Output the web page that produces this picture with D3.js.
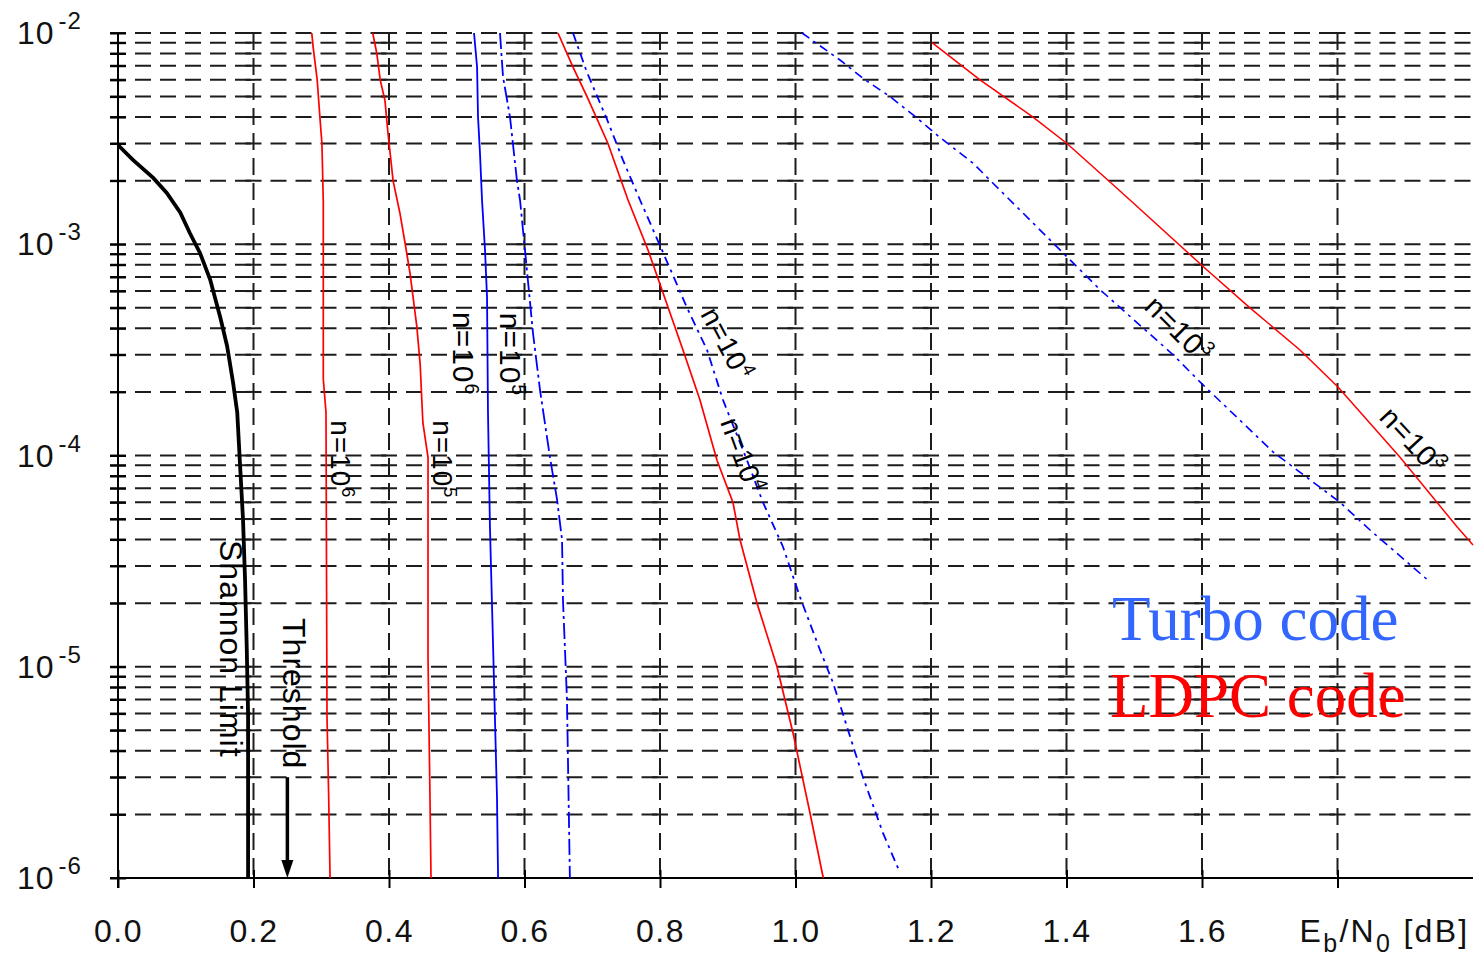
<!DOCTYPE html>
<html><head><meta charset="utf-8">
<script src="https://cdn.jsdelivr.net/npm/d3@7"></script>
<style>html,body{margin:0;padding:0;background:#fff;} svg{display:block;}</style>
</head><body>
<svg id="chart" width="1482" height="961"></svg>
<script>
// ---------- data ----------
const xTickValues = [0, 0.2, 0.4, 0.6, 0.8, 1.0, 1.2, 1.4, 1.6, 1.8];
const xTickLabels = ["0.0", "0.2", "0.4", "0.6", "0.8", "1.0", "1.2", "1.4", "1.6", ""];
const yDecades = [1e-6, 1e-5, 1e-4, 1e-3, 1e-2];
const yDecadeExponents = ["-6", "-5", "-4", "-3", "-2"];

const shannonLimit = [[0.000,2.95e-3],[0.022,2.51e-3],[0.052,2.06e-3],[0.072,1.75e-3],[0.092,1.41e-3],[0.106,1.13e-3],[0.121,9.1e-4],[0.136,6.8e-4],[0.151,4.5e-4],[0.161,3.3e-4],[0.170,2.2e-4],[0.176,1.6e-4],[0.180,9.2e-5],[0.1845,5.0e-5],[0.1875,2.6e-5],[0.190,1.24e-5],[0.192,6.0e-6],[0.192,1e-6]];
const ldpcN1e6 = [[0.286,1e-2],[0.288,8.6e-3],[0.294,6.0e-3],[0.298,4.0e-3],[0.301,3.0e-3],[0.303,1.6e-3],[0.303,2.3e-4],[0.307,1.6e-4],[0.3085,5.8e-6],[0.311,2.4e-6],[0.313,1e-6]];
const ldpcN1e5 = [[0.376,1e-2],[0.382,8.0e-3],[0.387,6.0e-3],[0.394,4.8e-3],[0.3985,3.36e-3],[0.406,2.0e-3],[0.416,1.41e-3],[0.424,1.0e-3],[0.431,7.3e-4],[0.441,4.1e-4],[0.446,2.7e-4],[0.450,1.43e-4],[0.4576,9.8e-5],[0.4576,1.1e-5],[0.4605,2.4e-6],[0.462,1e-6]];
const ldpcN1e4 = [[0.6494,1e-2],[0.6716,6.9e-3],[0.6923,5.0e-3],[0.7232,3.0e-3],[0.7528,1.62e-3],[0.7823,9.4e-4],[0.8044,5.9e-4],[0.8339,3.16e-4],[0.859,1.83e-4],[0.8841,9.5e-5],[0.9077,6.0e-5],[0.918,4.0e-5],[0.9432,2.0e-5],[0.9727,1.0e-5],[0.9963,4.86e-6],[1.0214,2.03e-6],[1.041,1e-6]];
const ldpcN1e3 = [[1.2015,9.0e-3],[1.2723,6.0e-3],[1.3506,4.0e-3],[1.4007,3.0e-3],[1.4642,1.97e-3],[1.4937,1.62e-3],[1.6074,7.55e-4],[1.6708,5.0e-4],[1.7446,3.16e-4],[1.8007,2.11e-4],[1.8923,9.8e-5],[1.9764,4.6e-5],[2.0,3.77e-5]];
const turboN1e6 = [[0.5255,1e-2],[0.530,6.9e-3],[0.5314,4.0e-3],[0.5343,2.7e-3],[0.5373,1.62e-3],[0.5417,9.4e-4],[0.5447,5.6e-4],[0.5461,1.6e-4],[0.549,4.6e-5],[0.5535,1.3e-5],[0.5594,2.4e-6],[0.561,1e-6]];
const turboN1e5 = [[0.5638,1e-2],[0.5683,6.2e-3],[0.5786,4.0e-3],[0.5889,2.0e-3],[0.5934,1.62e-3],[0.6007,9.4e-4],[0.6125,3.8e-4],[0.6229,2.04e-4],[0.6376,9.8e-5],[0.648,6.2e-5],[0.6554,4.0e-5],[0.6568,2.07e-5],[0.6627,7.0e-6],[0.667,1e-6]];
const turboN1e4 = [[0.6716,1e-2],[0.6923,6.5e-3],[0.7218,3.9e-3],[0.7454,2.5e-3],[0.7705,1.62e-3],[0.8074,8.7e-4],[0.8399,5.0e-4],[0.8694,3.16e-4],[0.893,1.83e-4],[0.9284,9.5e-5],[0.952,6.0e-5],[0.9815,3.7e-5],[1.0066,2.14e-5],[1.0362,1.2e-5],[1.0554,8.4e-6],[1.076,5.2e-6],[1.0996,3.0e-6],[1.1292,1.63e-6],[1.1542,1.06e-6]];
const turboN1e3 = [[1.0096,1e-2],[1.0657,7.45e-3],[1.0996,6.1e-3],[1.1395,5.0e-3],[1.1793,3.96e-3],[1.2133,3.2e-3],[1.262,2.42e-3],[1.3122,1.67e-3],[1.4494,6.1e-4],[1.5572,3.0e-4],[1.597,2.23e-4],[1.7048,1.04e-4],[1.8037,6.0e-5],[1.848,4.44e-5],[1.9365,2.52e-5]];
const thresholdDb = 0.25;
const thresholdArrowFrom = 3e-6;
const legendTexts = ["Turbo code", "LDPC code"];

// ---------- setup ----------
const svg = d3.select("#chart");
const x = d3.scaleLinear().domain([0, 2]).range([118, 1473]);
const y = d3.scaleLog().domain([1e-6, 1e-2]).range([878, 33]);
const FONT = "'Liberation Sans', Arial, Helvetica, sans-serif";
const SERIF = "'Liberation Serif', 'Times New Roman', Times, serif";
const gridColor = "#1c1c1c";

// ---------- grid ----------
const gGrid = svg.append("g");
gGrid.selectAll("line.v").data(xTickValues.filter(v => v > 0)).join("line")
  .attr("class", "v")
  .attr("x1", d => x(d)).attr("x2", d => x(d))
  .attr("y1", y(1e-2)).attr("y2", y(1e-6))
  .attr("stroke", gridColor).attr("stroke-width", 2)
  .attr("stroke-dasharray", "17 8");

const cellEdges = d3.range(0, 11).map(i => i * 0.2);
const segs = [];
y.ticks().forEach(v => {
  for (let i = 0; i < cellEdges.length - 1; i++) segs.push({ v, a: cellEdges[i], b: cellEdges[i + 1], i });
});
gGrid.selectAll("line.h").data(segs.filter(s => Math.abs(Math.log10(s.v) + 6) > 1e-6)).join("line")
  .attr("class", "h")
  .attr("x1", d => x(d.a) - 8).attr("x2", d => Math.min(x(d.b), x(2) + 2))
  .attr("y1", d => y(d.v)).attr("y2", d => y(d.v))
  .attr("stroke", gridColor).attr("stroke-width", 2)
  .attr("stroke-dasharray", "16 9");

// ---------- axes ----------
const xAxis = d3.axisBottom(x).tickValues(xTickValues).tickSize(10).tickSizeOuter(0)
  .tickFormat((d, i) => xTickLabels[i]);
const gx = svg.append("g").attr("transform", `translate(0,${y(1e-6)})`).call(xAxis);
gx.select(".domain").remove();
gx.selectAll(".tick line").attr("stroke", "#000").attr("stroke-width", 2).attr("y1", -8);
gx.selectAll(".tick text").attr("font-family", FONT).attr("font-size", 32)
  .attr("letter-spacing", 1.5).attr("fill", "#111").attr("y", 41);

const yAxis = d3.axisLeft(y).tickValues(y.ticks()).tickSize(8).tickSizeOuter(0).tickFormat("");
const gy = svg.append("g").attr("transform", `translate(${x(0)},0)`).call(yAxis);
gy.select(".domain").remove();
gy.selectAll(".tick line").attr("stroke", "#000").attr("stroke-width", 2).attr("x2", 8).attr("x1", -8);

svg.append("line").attr("x1", x(0)).attr("x2", x(0)).attr("y1", y(1e-2)).attr("y2", y(1e-6) + 10)
  .attr("stroke", "#000").attr("stroke-width", 2);
svg.append("line").attr("x1", x(0) - 8).attr("x2", x(2)).attr("y1", y(1e-6)).attr("y2", y(1e-6))
  .attr("stroke", "#000").attr("stroke-width", 2);

// y labels 10^k
const yl = svg.append("g").selectAll("text").data(yDecades).join("text")
  .attr("x", 17).attr("y", d => y(d) + 11)
  .attr("font-family", FONT).attr("font-size", 32).attr("letter-spacing", 1).attr("fill", "#111");
yl.append("tspan").text("10");
yl.append("tspan").attr("dx", 4).attr("dy", -15).attr("font-size", 24).text((d, i) => yDecadeExponents[i]);

// x-axis title E_b/N_0 [dB]
const xt = svg.append("text").attr("x", x(1.8) - 38).attr("y", y(1e-6) + 64)
  .attr("font-family", FONT).attr("font-size", 32).attr("letter-spacing", 2.3).attr("fill", "#111");
xt.append("tspan").text("E");
xt.append("tspan").attr("dy", 10).attr("font-size", 25).text("b");
xt.append("tspan").attr("dy", -10).text("/N");
xt.append("tspan").attr("dy", 10).attr("font-size", 25).text("0");
xt.append("tspan").attr("dy", -10).text(" [dB]");

// ---------- curves ----------
const line = d3.line().x(d => x(d[0])).y(d => y(d[1]));
const series = [
  { data: shannonLimit, color: "#000", width: 3.8, dash: null },
  { data: ldpcN1e6, color: "#ff0000", width: 1.7, dash: null },
  { data: ldpcN1e5, color: "#ff0000", width: 1.7, dash: null },
  { data: ldpcN1e4, color: "#ff0000", width: 1.7, dash: null },
  { data: ldpcN1e3, color: "#ff0000", width: 1.5, dash: null },
  { data: turboN1e6, color: "#0000ff", width: 1.8, dash: null },
  { data: turboN1e5, color: "#0000ff", width: 1.8, dash: "16 4 3 4" },
  { data: turboN1e4, color: "#0000ff", width: 1.8, dash: "9 5 3 5" },
  { data: turboN1e3, color: "#0000ff", width: 1.6, dash: "9 5 3 5" }
];
svg.append("g").selectAll("path").data(series).join("path")
  .attr("d", d => line(d.data)).attr("fill", "none")
  .attr("stroke", d => d.color).attr("stroke-width", d => d.width)
  .attr("stroke-dasharray", d => d.dash);

// threshold arrow
const ax = x(thresholdDb);
svg.append("line").attr("x1", ax).attr("x2", ax).attr("y1", y(thresholdArrowFrom)).attr("y2", y(1e-6) - 14)
  .attr("stroke", "#000").attr("stroke-width", 3.5);
svg.append("path")
  .attr("d", `M${ax - 6},${y(1e-6) - 18} L${ax + 6},${y(1e-6) - 18} L${ax},${y(1e-6)} Z`)
  .attr("fill", "#000");

// ---------- annotations ----------
function rotLabel(xv, yv, rot, main, sup, size) {
  const t = svg.append("text")
    .attr("transform", `translate(${x(xv)},${y(yv)}) rotate(${rot})`)
    .attr("font-family", FONT).attr("font-size", size).attr("letter-spacing", 1).attr("fill", "#000");
  t.append("tspan").text(main);
  if (sup) t.append("tspan").attr("dy", -size * 0.4).attr("font-size", size * 0.65).text(sup);
}
rotLabel(0.1506, 3.98e-5, 90, "Shannon Limit", null, 32);
rotLabel(0.2435, 1.70e-5, 90, "Threshold", null, 32);
rotLabel(0.3144, 1.47e-4, 90, "n=10", "6", 28);
rotLabel(0.465, 1.47e-4, 90, "n=10", "5", 28);
rotLabel(0.4945, 4.78e-4, 90, "n=10", "6", 30);
rotLabel(0.5638, 4.74e-4, 90, "n=10", "5", 30);
rotLabel(0.859, 4.68e-4, 62, "n=10", "4", 28);
rotLabel(0.8886, 1.44e-4, 70, "n=10", "4", 28);
rotLabel(1.5129, 4.99e-4, 45, "n=10", "3", 29);
rotLabel(1.8598, 1.50e-4, 47, "n=10", "3", 29);

// legend
svg.append("text").attr("x", x(1.4672)).attr("y", y(1.34e-5))
  .attr("font-family", SERIF).attr("font-size", 63).attr("fill", "#3366ff").text(legendTexts[0]);
svg.append("text").attr("x", x(1.4642)).attr("y", y(5.78e-6))
  .attr("font-family", SERIF).attr("font-size", 63).attr("fill", "#ff0000").text(legendTexts[1]);
</script>
</body></html>
